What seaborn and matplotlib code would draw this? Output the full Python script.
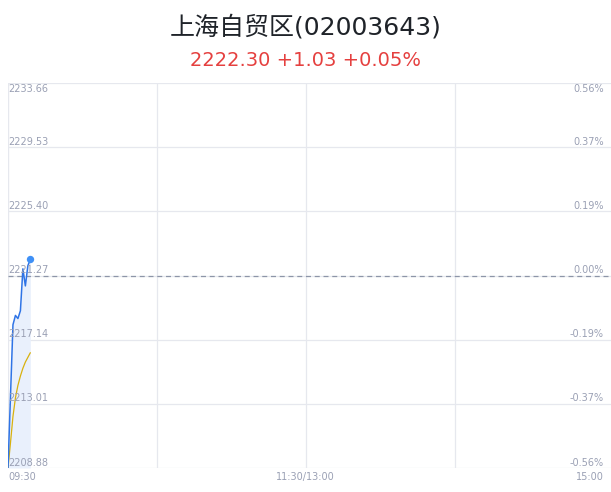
import matplotlib
matplotlib.use("Agg")
import matplotlib.pyplot as plt
import seaborn as sns
import pandas as pd
import numpy as np

# ---- data ----
title = "上海自贸区(02003643)"
subtitle = "2222.30 +1.03 +0.05%"
minutes = [0, 1, 2, 3, 4, 5, 6, 7, 8, 9]
price = [2208.88, 2213.5, 2218.1, 2218.7, 2218.5, 2219.0, 2221.7, 2220.6, 2221.9, 2222.30]
avg_price = [2208.88, 2210.5, 2212.2, 2213.4, 2214.2, 2214.8, 2215.3, 2215.7, 2216.0, 2216.3]
prev_close = 2221.27
y_ticks = [2208.88, 2213.01, 2217.14, 2221.27, 2225.40, 2229.53, 2233.66]
y_tick_labels = ["2208.88", "2213.01", "2217.14", "2221.27", "2225.40", "2229.53", "2233.66"]
pct_labels = ["-0.56%", "-0.37%", "-0.19%", "0.00%", "0.19%", "0.37%", "0.56%"]
x_ticks = [0, 120, 240]
x_tick_labels = ["09:30", "11:30/13:00", "15:00"]
x_grid = [60, 120, 180]

df = pd.DataFrame({"minute": minutes, "price": price, "avg": avg_price})

sns.set_theme(style="white")
plt.rcParams['font.family'] = ['Noto Sans CJK SC', 'DejaVu Sans']

W, H = 611, 492
fig = plt.figure(figsize=(W / 100, H / 100), dpi=100)
left, right, top, bottom = 8, 611, 83, 468
ax = fig.add_axes([left / W, 1 - bottom / H, (right - left) / W, (bottom - top) / H])

xmax = 243
ax.set_xlim(0, xmax)
ax.set_ylim(y_ticks[0], y_ticks[-1])

grid_c = "#e6e8ee"
for y in y_ticks:
    ax.axhline(y, color=grid_c, lw=0.9, zorder=0)
for x in x_grid:
    ax.axvline(x, color=grid_c, lw=0.9, zorder=0)
for s in ax.spines.values():
    s.set_visible(False)
ax.axvline(0, color=grid_c, lw=1.0, zorder=0)

ax.fill_between(df["minute"], df["price"], y_ticks[0], color="#e9f0fc", lw=0, zorder=1)
sns.lineplot(data=df, x="minute", y="price", ax=ax, color="#2f74e6", lw=1.1, zorder=3)
sns.lineplot(data=df, x="minute", y="avg", ax=ax, color="#d8b10e", lw=0.9, zorder=2)
ax.scatter([minutes[-1]], [price[-1]], s=28, color="#3f90f6", zorder=4, lw=0)
ax.axhline(prev_close, color="#8d95a8", lw=0.9, ls=(0, (4, 3)), zorder=2)

ax.set_xticks([])
ax.set_yticks([])
ax.set_xlabel("")
ax.set_ylabel("")

lab_c = "#9aa0b4"
fs = 7
for i, (y, lab, pct) in enumerate(zip(y_ticks, y_tick_labels, pct_labels)):
    va = "top" if i == len(y_ticks) - 1 else "bottom"
    off = -1 if va == "top" else 0.3
    ax.annotate(lab, (0, y), xytext=(0.5, off), textcoords="offset points",
                ha="left", va=va, fontsize=fs, color=lab_c, family=["DejaVu Sans"])
    ax.annotate(pct, (240, y), xytext=(0, off), textcoords="offset points",
                ha="right", va=va, fontsize=fs, color=lab_c, family=["DejaVu Sans"])

has = ["left", "center", "right"]
for x, lab, ha in zip(x_ticks, x_tick_labels, has):
    ax.annotate(lab, (x, y_ticks[0]), xytext=(0, -3), textcoords="offset points",
                ha=ha, va="top", fontsize=fs, color=lab_c, family=["DejaVu Sans"])

fig.text(0.5, 1 - 27 / H, title, ha="center", va="center", fontsize=18, color="#1f2329",
         family=["DejaVu Sans", "Noto Sans CJK SC"])
fig.text(0.5, 1 - 60 / H, subtitle, ha="center", va="center", fontsize=14, color="#e5403f",
         family=["DejaVu Sans"])

fig.savefig("out.png", dpi=100)
